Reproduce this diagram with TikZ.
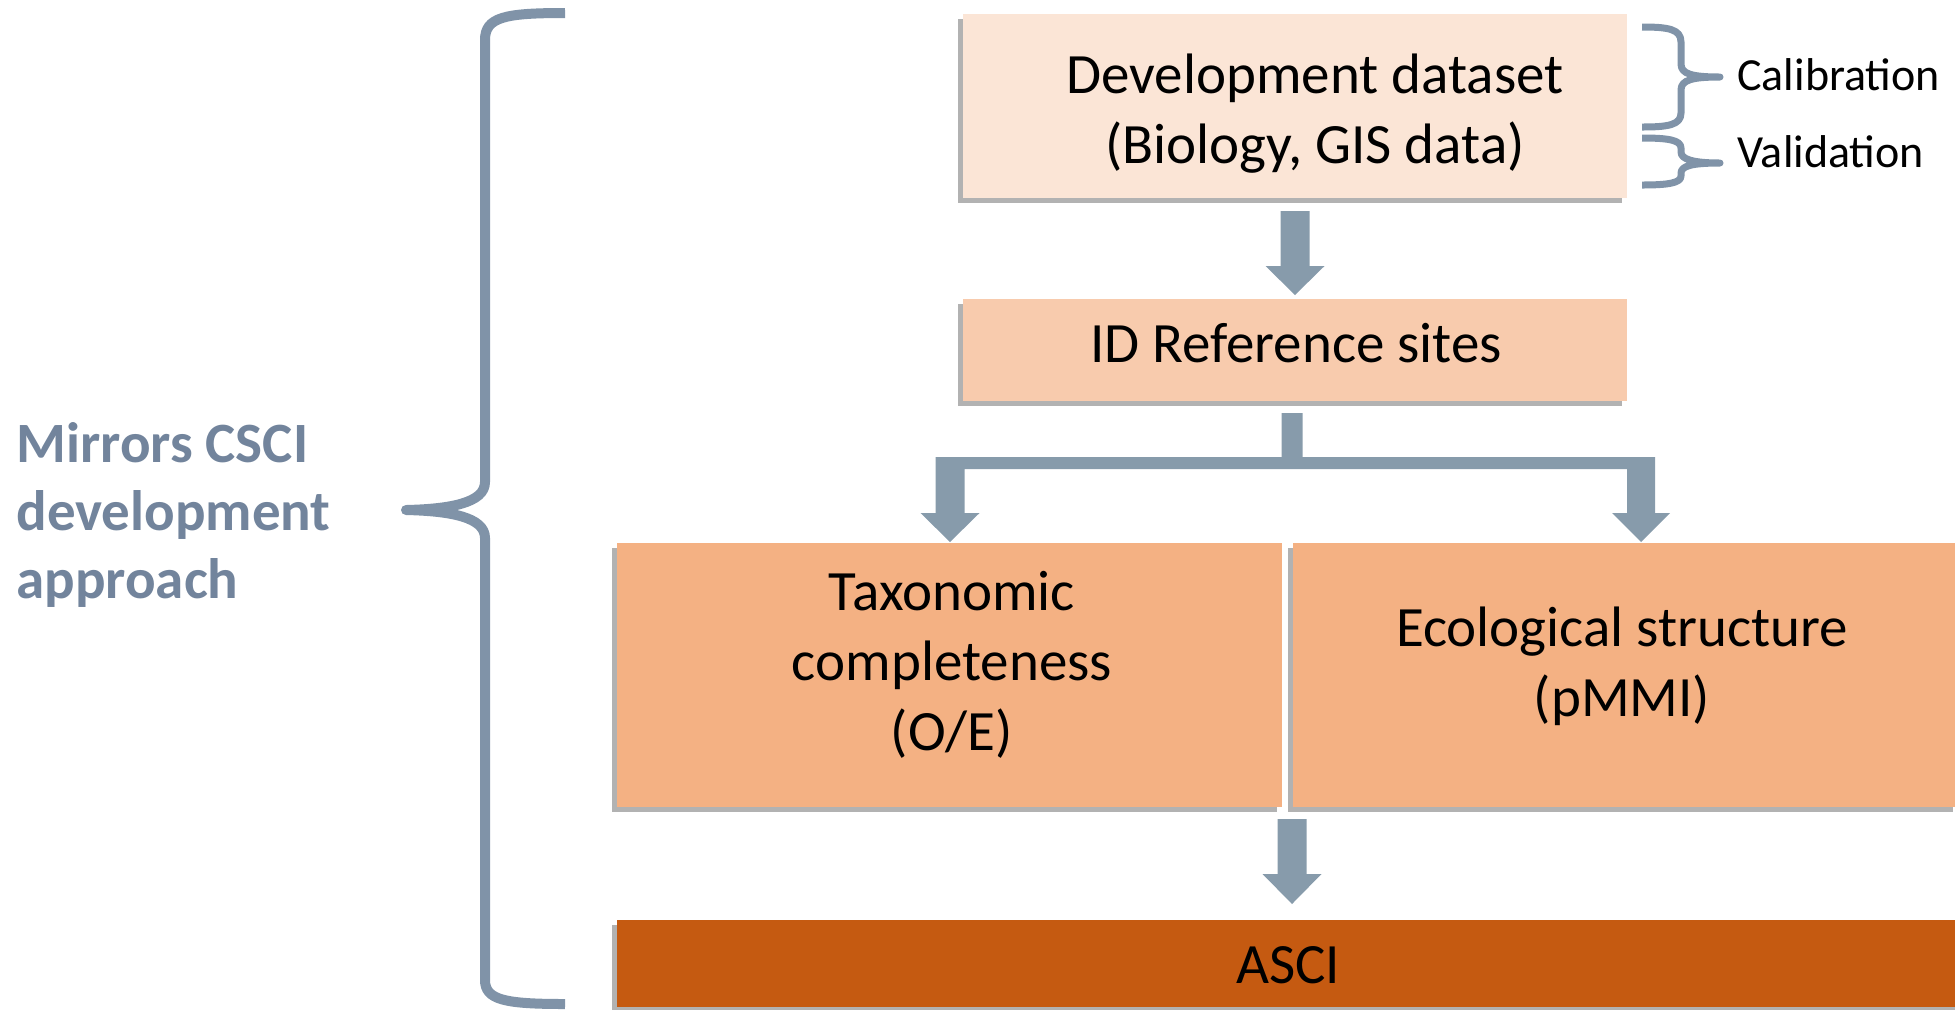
\documentclass[tikz,border=0pt]{standalone}
\usepackage{fontspec}
\setmainfont{Carlito}
\usetikzlibrary{calc,shadows}
\definecolor{devfill}{HTML}{FBE5D6}
\definecolor{reffill}{HTML}{F8CBAD}
\definecolor{midfill}{HTML}{F4B183}
\definecolor{ascifill}{HTML}{C55A11}
\definecolor{arrowc}{HTML}{879BAB}
\definecolor{bracec}{HTML}{8093A8}
\definecolor{leftc}{HTML}{72849C}
\begin{document}
\begin{tikzpicture}[x=0.5pt,y=-0.5pt,
 box/.style={inner sep=0pt, outer sep=0pt, draw=none,
   drop shadow={shadow xshift=-2.5pt,shadow yshift=-2.5pt,opacity=0.3,fill=black}},
 boxtext/.style={inner sep=0pt, align=center, font=\fontsize{28.5pt}{35pt}\selectfont},
 sidetext/.style={inner sep=0pt, font=\fontsize{23pt}{28pt}\selectfont},
 bracestyle/.style={draw=bracec, line cap=butt, line join=round},
 fatarrow/.style={fill=arrowc}]
\useasboundingbox (0,0) rectangle (1955,1009);
\clip (0,0) rectangle (1955,1009);

% boxes
\node[box, fill=devfill, minimum width=332pt, minimum height=92pt] (dev) at (1295,106) {};
\node[box, fill=reffill, minimum width=332pt, minimum height=51pt] (ref) at (1295,350) {};
\node[box, fill=midfill, minimum width=332.5pt, minimum height=132pt] (tax) at (949.5,675) {};
\node[box, fill=midfill, minimum width=332.5pt, minimum height=132pt] (eco) at (1625.5,675) {};
\node[box, fill=ascifill, minimum width=671.5pt, minimum height=43.5pt] (asci) at (1288.5,963.5) {};

% texts
\node[boxtext] (devt) at (1315,114) {Development dataset\\(Biology, GIS data)};
\node[boxtext] (reft) at (1296,343) {ID Reference sites};
\node[boxtext] (taxt) at (952,665) {Taxonomic\\completeness\\(O/E)};
\node[boxtext] (ecot) at (1622,666) {Ecological structure\\(pMMI)};
\node[boxtext] (ascit) at (1288,965) {ASCI};

% arrow dev -> ref
\coordinate (a1s) at ($(dev.south)+(0,13)$);
\coordinate (a1t) at ($(ref.north)+(0,-4)$);
\fill[fatarrow] ($(a1s)+(-14.5,0)$) -- ($(a1s)+(14.5,0)$) -- ($(a1t)+(14.5,-29)$)
  -- ($(a1t)+(29.5,-29)$) -- (a1t) -- ($(a1t)+(-29.5,-29)$) -- ($(a1t)+(-14.5,-29)$) -- cycle;

% split connector ref -> tax, eco
\coordinate (stemtop) at ($(ref.south)+(-3,12)$);
\coordinate (ltip) at ($(tax.north)+(0.5,-1)$);
\coordinate (rtip) at ($(eco.north)+(15.5,-1)$);
\fill[fatarrow] ($(stemtop)+(-10.5,0)$) -- ($(stemtop)+(10.5,0)$) -- ($(stemtop)+(10.5,44)$)
  -- ($(rtip)+(14,-85)$) -- ($(rtip)+(14,-29)$) -- ($(rtip)+(29,-29)$) -- (rtip)
  -- ($(rtip)+(-29,-29)$) -- ($(rtip)+(-14,-29)$) -- ($(rtip)+(-14,-73)$)
  -- ($(ltip)+(14.5,-73)$) -- ($(ltip)+(14.5,-29)$) -- ($(ltip)+(29.5,-29)$) -- (ltip)
  -- ($(ltip)+(-29.5,-29)$) -- ($(ltip)+(-14.5,-29)$) -- ($(ltip)+(-14.5,-85)$)
  -- ($(stemtop)+(-10.5,44)$) -- cycle;

% arrow tax/eco -> asci
\coordinate (a3s) at ($(tax.south east)+(10,12)$);
\coordinate (a3t) at ($(a3s |- asci.north)+(0,-16)$);
\fill[fatarrow] ($(a3s)+(-14.5,0)$) -- ($(a3s)+(14.5,0)$) -- ($(a3t)+(14.5,-30)$)
  -- ($(a3t)+(29.5,-30)$) -- (a3t) -- ($(a3t)+(-29.5,-30)$) -- ($(a3t)+(-14.5,-30)$) -- cycle;

% big left brace
\draw[bracestyle, line width=5pt] (565,13) .. controls (505,13) and (485,17) .. (485,40)
  -- (485,482) .. controls (485,503) and (450,509) .. (406,510)
  .. controls (450,511) and (485,517) .. (485,538)
  -- (485,980) .. controls (485,1000) and (505,1004) .. (565,1004);

% small braces
\draw[bracestyle, line width=3.5pt] (1642,27) .. controls (1668,27) and (1681,29) .. (1681,42)
  -- (1681,64) .. controls (1681,74) and (1692,77) .. (1720,77)
  .. controls (1692,77) and (1681,80) .. (1681,90)
  -- (1681,113) .. controls (1681,125) and (1668,127) .. (1642,127);
\draw[bracestyle, line width=3.5pt] (1642,138) .. controls (1668,138) and (1681,140) .. (1681,148)
  -- (1681,152) .. controls (1681,159) and (1692,163) .. (1720,163)
  .. controls (1692,163) and (1681,166) .. (1681,173)
  -- (1681,176) .. controls (1681,183) and (1668,185) .. (1642,185);

\node[sidetext, anchor=base west] (cal) at (1737,90) {Calibration};
\node[sidetext, anchor=base west] (val) at (1737,167) {Validation};

\node[inner sep=0pt, anchor=west, align=left, text=leftc,
  font=\bfseries\fontsize{28.5pt}{34pt}\selectfont] (mirror) at (16,515)
  {Mirrors CSCI\\development\\approach};
\end{tikzpicture}
\end{document}
